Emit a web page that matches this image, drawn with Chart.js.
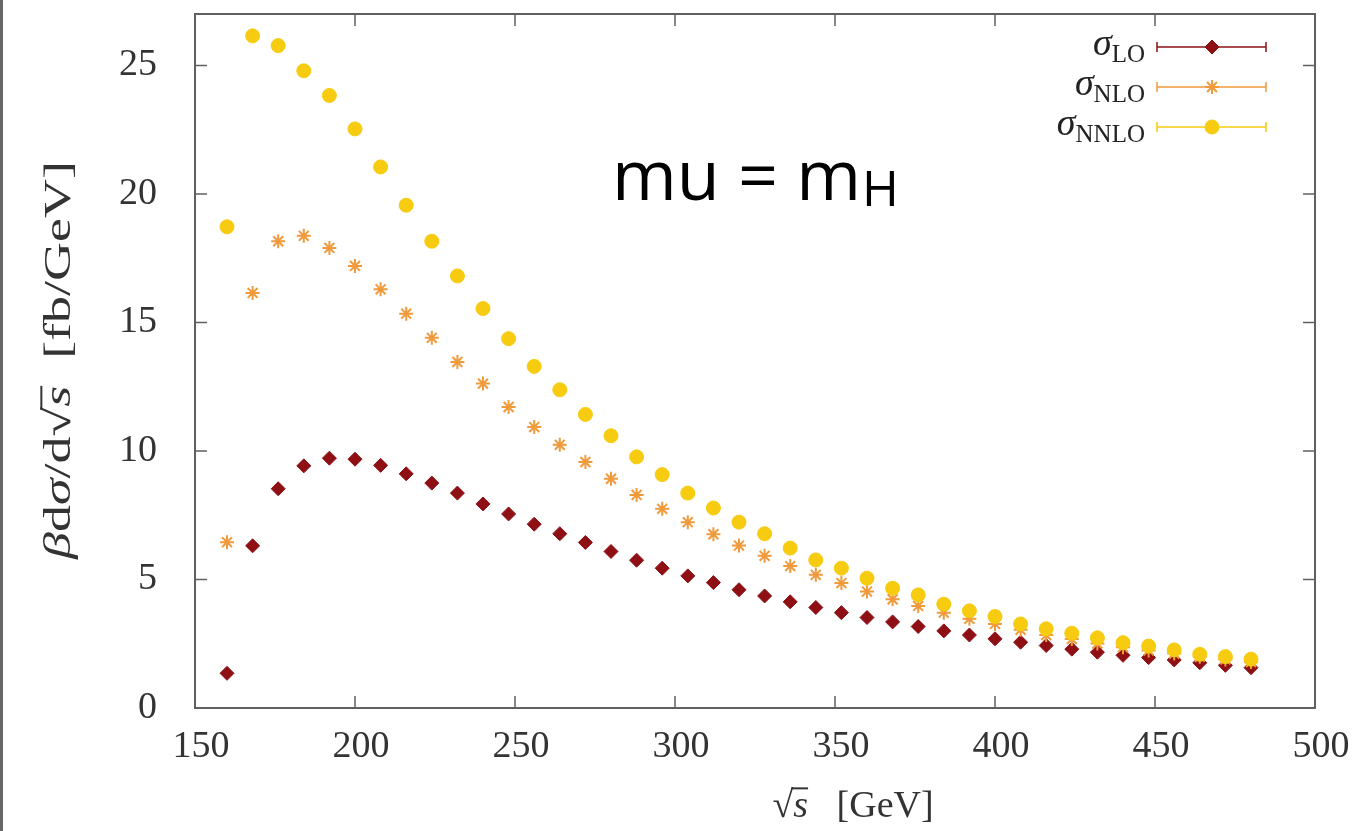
<!DOCTYPE html>
<html>
<head>
<meta charset="utf-8">
<script src="https://cdn.jsdelivr.net/npm/chart.js@4"></script>
<style>
  body { margin: 0; background: #fff; }
  #wrap { position: relative; width: 1356px; height: 831px; }
  #edge { position: absolute; left: 0; top: 0; width: 3px; height: 831px; background: #666; }
</style>
</head>
<body>
<div id="wrap">
  <canvas id="grafico" width="1356" height="831"></canvas>
  <div id="edge"></div>
</div>
<script>
// sqrt(s) in GeV
const energias = [160, 168, 176, 184, 192, 200, 208, 216, 224, 232, 240, 248, 256, 264, 272, 280, 288, 296, 304, 312, 320,
  328, 336, 344, 352, 360, 368, 376, 384, 392, 400, 408, 416, 424, 432, 440, 448, 456, 464, 472, 480]

const sigmaLO = [1.35, 6.31, 8.53, 9.42, 9.72, 9.68, 9.44, 9.11, 8.75, 8.36, 7.94, 7.55, 7.15, 6.78, 6.44, 6.09, 5.75, 5.44, 5.14, 4.88, 4.60,
  4.36, 4.13, 3.91, 3.71, 3.52, 3.35, 3.17, 3.00, 2.84, 2.69, 2.56, 2.43, 2.29, 2.17, 2.05, 1.96, 1.87, 1.76, 1.66, 1.57]

const sigmaNLO = [6.45, 16.15, 18.16, 18.37, 17.90, 17.20, 16.29, 15.34, 14.40, 13.46, 12.62, 11.71, 10.93, 10.24, 9.57, 8.92, 8.29, 7.75, 7.23, 6.76, 6.32,
  5.92, 5.52, 5.18, 4.86, 4.53, 4.23, 3.97, 3.71, 3.47, 3.27, 3.04, 2.84, 2.68, 2.51, 2.36, 2.24, 2.12, 1.99, 1.89, 1.79]

const sigmaNNLO = [18.72, 26.15, 25.77, 24.79, 23.83, 22.53, 21.05, 19.56, 18.16, 16.81, 15.54, 14.37, 13.29, 12.38, 11.42, 10.59, 9.77, 9.08, 8.36, 7.78, 7.23,
  6.78, 6.22, 5.76, 5.44, 5.05, 4.66, 4.40, 4.04, 3.78, 3.56, 3.27, 3.08, 2.91, 2.73, 2.54, 2.41, 2.26, 2.09, 2.00, 1.90]

const ticksX = [150, 200, 250, 300, 350, 400, 450, 500]
const ticksY = [0, 5, 10, 15, 20, 25]

const colores = { lo: '#8e1014', nlo: '#f09a3c', nnlo: '#f6cb10' }
const serif = '"Liberation Serif", "DejaVu Serif", serif'

function puntos(ys) {
  return energias.map((x, i) => ({ x: x, y: ys[i] }))
}

// draws a row of text pieces with mixed italic / sub sizes
function textoRico(ctx, partes, x, y, align) {
  let total = 0
  partes.forEach(p => {
    ctx.font = (p.italic ? 'italic ' : '') + p.size + 'px ' + serif
    p.w = ctx.measureText(p.t).width
    total += p.w
  })
  let cx = align === 'right' ? x - total : align === 'center' ? x - total / 2 : x
  ctx.textAlign = 'left'
  ctx.textBaseline = 'alphabetic'
  partes.forEach(p => {
    ctx.font = (p.italic ? 'italic ' : '') + p.size + 'px ' + serif
    ctx.fillText(p.t, cx, y + (p.dy || 0))
    if (p.bar) {
      ctx.fillRect(cx - 2, y - p.size * 0.78, p.w + 2, 2)
    }
    cx += p.w
  })
}

const marco = {
  id: 'marco',
  afterDraw(chart) {
    const ctx = chart.ctx
    const a = chart.chartArea
    const sx = chart.scales.x
    const sy = chart.scales.y
    ctx.save()
    ctx.strokeStyle = '#606060'
    ctx.lineWidth = 2
    ctx.strokeRect(a.left, a.top, a.right - a.left, a.bottom - a.top)
    ctx.lineWidth = 1.5
    ctx.beginPath()
    ticksX.forEach(v => {
      const px = sx.getPixelForValue(v)
      ctx.moveTo(px, a.bottom); ctx.lineTo(px, a.bottom - 12)
      ctx.moveTo(px, a.top); ctx.lineTo(px, a.top + 12)
    })
    ticksY.forEach(v => {
      const py = sy.getPixelForValue(v)
      ctx.moveTo(a.left, py); ctx.lineTo(a.left + 12, py)
      ctx.moveTo(a.right, py); ctx.lineTo(a.right - 12, py)
    })
    ctx.stroke()

    // legend
    const filas = [
      { sub: 'LO', color: colores.lo, ds: 0 },
      { sub: 'NLO', color: colores.nlo, ds: 1 },
      { sub: 'NNLO', color: colores.nnlo, ds: 2 }
    ]
    filas.forEach((f, i) => {
      const yc = 47 + i * 40
      ctx.fillStyle = '#222'
      textoRico(ctx, [
        { t: 'σ', italic: true, size: 38 },
        { t: f.sub, size: 25, dy: 7 }
      ], 1145, yc + 8, 'right')
      ctx.strokeStyle = f.color
      ctx.lineWidth = 1.5
      ctx.beginPath()
      ctx.moveTo(1157, yc); ctx.lineTo(1266, yc)
      ctx.moveTo(1157, yc - 5); ctx.lineTo(1157, yc + 5)
      ctx.moveTo(1266, yc - 5); ctx.lineTo(1266, yc + 5)
      ctx.stroke()
      const o = chart.data.datasets[f.ds]
      ctx.fillStyle = f.color
      ctx.strokeStyle = f.color
      ctx.lineWidth = o.pointBorderWidth
      Chart.helpers.drawPoint(ctx, { pointStyle: o.pointStyle, radius: o.pointRadius, rotation: 0, borderWidth: o.pointBorderWidth }, 1212, yc)
    })

    // annotation
    ctx.fillStyle = '#000'
    ctx.textAlign = 'left'
    ctx.textBaseline = 'alphabetic'
    ctx.font = '70px "Open Sans", sans-serif'
    ctx.fillText('mu = m', 612, 200)
    const w = ctx.measureText('mu = m').width
    ctx.font = '50px "Open Sans", sans-serif'
    ctx.fillText('H', 612 + w + 1, 206)

    // axis titles
    ctx.fillStyle = '#333'
    textoRico(ctx, [
      { t: '√', size: 38 },
      { t: 's', italic: true, size: 38, bar: true },
      { t: '   [GeV]', size: 38 }
    ], 853, 817, 'center')

    ctx.translate(58, 360)
    ctx.rotate(-Math.PI / 2)
    ctx.scale(1.42, 1)
    textoRico(ctx, [
      { t: 'β', italic: true, size: 38 },
      { t: 'd', size: 38 },
      { t: 'σ', italic: true, size: 38 },
      { t: '/d', size: 38 },
      { t: '√', size: 38 },
      { t: 's', italic: true, size: 38, bar: true },
      { t: '  [fb/GeV]', size: 38 }
    ], 0, 12, 'center')
    ctx.restore()
  }
}

function sinRelleno(s) {
  s.paddingTop = 0
  s.paddingBottom = 0
  s.paddingLeft = 0
  s.paddingRight = 0
}

const config = {
  type: 'scatter',
  data: {
    datasets: [
      {
        label: 'σLO', data: puntos(sigmaLO), order: 3,
        pointStyle: 'rectRot', pointRadius: 7, pointBorderWidth: 1,
        backgroundColor: colores.lo, borderColor: colores.lo
      },
      {
        label: 'σNLO', data: puntos(sigmaNLO), order: 2,
        pointStyle: 'star', pointRadius: 7, pointBorderWidth: 2,
        backgroundColor: colores.nlo, borderColor: colores.nlo
      },
      {
        label: 'σNNLO', data: puntos(sigmaNNLO), order: 1,
        pointStyle: 'circle', pointRadius: 7, pointBorderWidth: 1,
        backgroundColor: colores.nnlo, borderColor: colores.nnlo
      }
    ]
  },
  options: {
    responsive: false,
    animation: false,
    events: [],
    layout: { padding: { left: 0, top: 14, right: 41, bottom: 0 } },
    plugins: { legend: { display: false }, tooltip: { enabled: false } },
    scales: {
      x: {
        type: 'linear', min: 150, max: 500,
        grid: { display: false, drawTicks: false },
        border: { display: false },
        afterFit: s => { s.height = 123; sinRelleno(s) },
        afterBuildTicks: s => { s.ticks = ticksX.map(v => ({ value: v })) },
        ticks: { font: { family: serif, size: 38 }, color: '#333', padding: 16, labelOffset: 6, maxRotation: 0 }
      },
      y: {
        type: 'linear', min: 0, max: 27,
        grid: { display: false, drawTicks: false },
        border: { display: false },
        afterFit: s => { s.width = 195; sinRelleno(s) },
        afterBuildTicks: s => { s.ticks = ticksY.map(v => ({ value: v })) },
        ticks: { font: { family: serif, size: 38 }, color: '#333', padding: 38 }
      }
    }
  },
  plugins: [marco]
}

let chart = new Chart(document.getElementById('grafico'), config)
</script>
</body>
</html>
